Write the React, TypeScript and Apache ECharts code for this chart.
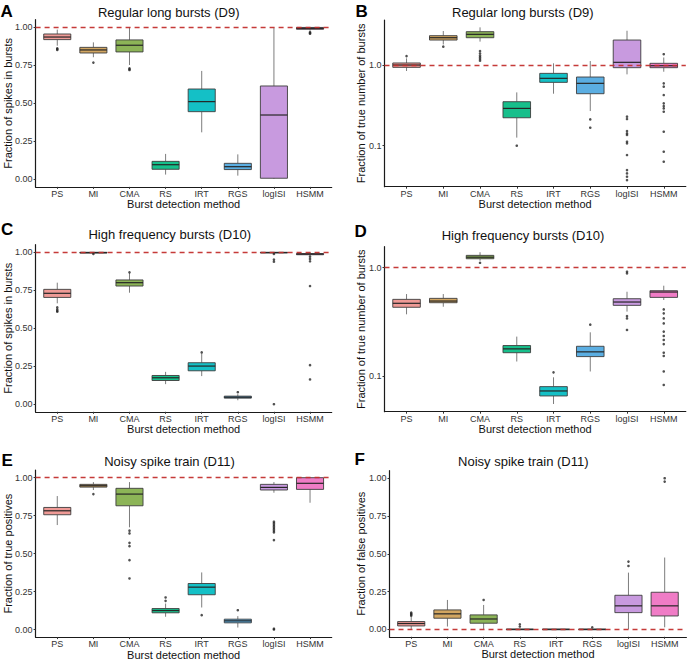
import React, { useEffect, useRef } from "react";
import * as echarts from "echarts";

const methods = ["PS", "MI", "CMA", "RS", "IRT", "RGS", "logISI", "HSMM"];
const fills = ["#EF9A96", "#D2A661", "#8CB457", "#17BF8B", "#14C0C6", "#5BAEE2", "#C89ADF", "#F07CC6"];

const letters = ["A", "B", "C", "D", "E", "F"];
const titles = [
  "Regular long bursts (D9)",
  "Regular long bursts (D9)",
  "High frequency bursts (D10)",
  "High frequency bursts (D10)",
  "Noisy spike train (D11)",
  "Noisy spike train (D11)",
];
const yTitles = [
  "Fraction of spikes in bursts",
  "Fraction of true number of bursts",
  "Fraction of spikes in bursts",
  "Fraction of true number of bursts",
  "Fraction of true positives",
  "Fraction of false positives",
];
const xTitle = "Burst detection method";
const linearTicks = [0, 0.25, 0.5, 0.75, 1];
const logTicks = [0.1, 1.0];
const refValues = [1, 1, 1, 1, 1, 0];

// box stats per method: [lower whisker, Q1, median, Q3, upper whisker]
const boxesA = [
  [0.879, 0.919, 0.936, 0.956, 0.985],
  [0.803, 0.831, 0.851, 0.868, 0.901],
  [0.752, 0.838, 0.882, 0.917, 1.0],
  [0.031, 0.066, 0.096, 0.118, 0.167],
  [0.309, 0.445, 0.511, 0.594, 0.713],
  [0.024, 0.064, 0.083, 0.105, 0.164],
  [0.002, 0.007, 0.423, 0.614, 0.998],
  [0.978, 0.987, 0.993, 0.999, 1.0],
];
const outliersA = [
  [0, 0.862], [0, 0.857], [0, 0.851],
  [1, 0.768],
  [2, 0.730], [2, 0.724], [2, 0.719],
  [7, 0.968], [7, 0.962], [7, 0.958],
];

const boxesB = [
  [0.843, 0.936, 1.0, 1.06, 1.21],
  [1.80, 2.04, 2.18, 2.31, 2.64],
  [1.95, 2.18, 2.40, 2.59, 2.93],
  [0.126, 0.222, 0.290, 0.351, 0.458],
  [0.441, 0.610, 0.684, 0.788, 1.05],
  [0.269, 0.441, 0.593, 0.71, 1.12],
  [0.766, 0.927, 1.08, 2.04, 2.66],
  [0.826, 0.927, 0.98, 1.05, 1.24],
];
const outliersB = [
  [0, 1.29],
  [1, 1.69],
  [2, 1.49], [2, 1.39], [2, 1.31], [2, 1.25], [2, 1.19], [2, 1.13],
  [3, 0.1],
  [5, 0.212], [5, 0.167],
  [6, 0.229], [6, 0.214], [6, 0.152], [6, 0.142], [6, 0.136], [6, 0.112], [6, 0.107],
  [6, 0.0766], [6, 0.0499], [6, 0.0454], [6, 0.0413], [6, 0.0375],
  [7, 1.36], [7, 0.593], [7, 0.539], [7, 0.425], [7, 0.335], [7, 0.310], [7, 0.290],
  [7, 0.264], [7, 0.149], [7, 0.0843], [7, 0.0633],
];

const boxesC = [
  [0.664, 0.703, 0.730, 0.756, 0.800],
  [0.993, 0.995, 0.998, 1.0, 1.0],
  [0.734, 0.778, 0.800, 0.818, 0.862],
  [0.132, 0.156, 0.174, 0.189, 0.213],
  [0.185, 0.220, 0.251, 0.273, 0.334],
  [0.026, 0.040, 0.046, 0.053, 0.066],
  [0.992, 0.996, 0.998, 1.0, 1.0],
  [0.975, 0.984, 0.988, 0.992, 1.0],
];
const outliersC = [
  [0, 0.637], [0, 0.624], [0, 0.615], [0, 0.609],
  [1, 0.989],
  [2, 0.868],
  [4, 0.341],
  [5, 0.079],
  [6, 0.989], [6, 0.952], [6, 0.938], [6, 0.0],
  [7, 0.971], [7, 0.956], [7, 0.941], [7, 0.778], [7, 0.257], [7, 0.163],
];

const boxesD = [
  [0.371, 0.431, 0.469, 0.510, 0.571],
  [0.436, 0.475, 0.492, 0.521, 0.571],
  [1.16, 1.21, 1.25, 1.30, 1.39],
  [0.136, 0.164, 0.178, 0.191, 0.231],
  [0.0551, 0.0654, 0.0727, 0.0797, 0.0972],
  [0.110, 0.151, 0.167, 0.188, 0.253],
  [0.393, 0.449, 0.482, 0.517, 0.600],
  [0.503, 0.532, 0.596, 0.613, 0.682],
];
const outliersD = [
  [2, 1.11],
  [4, 0.108],
  [5, 0.298],
  [6, 0.918], [6, 0.887], [6, 0.358], [6, 0.340], [6, 0.266],
  [7, 0.412], [7, 0.379], [7, 0.340], [7, 0.306], [7, 0.257], [7, 0.234], [7, 0.215],
  [7, 0.197], [7, 0.164], [7, 0.153], [7, 0.110], [7, 0.0826],
];

const boxesE = [
  [0.688, 0.756, 0.782, 0.804, 0.879],
  [0.919, 0.938, 0.947, 0.956, 0.971],
  [0.673, 0.815, 0.892, 0.930, 0.971],
  [0.084, 0.110, 0.125, 0.138, 0.171],
  [0.145, 0.229, 0.279, 0.303, 0.376],
  [0.013, 0.044, 0.057, 0.068, 0.088],
  [0.901, 0.919, 0.936, 0.956, 0.971],
  [0.835, 0.923, 0.963, 1.0, 1.0],
];
const outliersE = [
  [1, 0.892],
  [2, 0.651], [2, 0.633], [2, 0.571], [2, 0.549], [2, 0.457], [2, 0.336],
  [3, 0.211], [3, 0.189],
  [4, 0.0945],
  [5, 0.127],
  [6, 0.710], [6, 0.700], [6, 0.690], [6, 0.680], [6, 0.670], [6, 0.660], [6, 0.650],
  [6, 0.640], [6, 0.589], [6, 0.005], [6, 0.0],
];

const boxesF = [
  [0.0, 0.022, 0.038, 0.051, 0.084],
  [0.018, 0.073, 0.102, 0.128, 0.194],
  [0.0, 0.040, 0.068, 0.095, 0.161],
  [0, 0, 0, 0, 0],
  [0, 0, 0, 0, 0],
  [0, 0, 0, 0, 0],
  [0.0, 0.110, 0.155, 0.225, 0.375],
  [0.013, 0.088, 0.155, 0.245, 0.475],
];
const outliersF = [
  [0, 0.110], [0, 0.103], [0, 0.097], [0, 0.090],
  [2, 0.194],
  [3, 0.033], [3, 0.018],
  [5, 0.013],
  [6, 0.448], [6, 0.419],
  [7, 1.0], [7, 0.978],
];

const FONT = "'Liberation Sans', Arial, sans-serif";

export default function App() {
  const ref = useRef<HTMLDivElement>(null);

  useEffect(() => {
    if (!ref.current) return;
    const chart = echarts.init(ref.current, null, { renderer: "svg" });

    const allBoxes = [boxesA, boxesB, boxesC, boxesD, boxesE, boxesF];
    const allOut = [outliersA, outliersB, outliersC, outliersD, outliersE, outliersF];
    const isLog = [false, true, false, true, false, false];
    // grid layout [left, top, width, height]
    const grids = [
      [35.6, 19.7, 296.1, 167.2],
      [384.5, 20, 301.3, 166.7],
      [35.6, 244.7, 296.1, 167.1],
      [384.5, 246.7, 301.3, 165],
      [35.6, 470.1, 296.1, 167],
      [389.5, 470.7, 296.9, 166.1],
    ];
    const yRanges = [
      [-0.05, 1.05],
      [-1.508, 0.558],
      [-0.05, 1.05],
      [-1.33, 0.194],
      [-0.05, 1.05],
      [-0.05, 1.05],
    ];
    const titlePos = [
      [168.7, 12], [522.8, 12.5], [169.7, 234.5], [523, 235], [169.5, 461.5], [523.3, 461.5],
    ];
    const letterPos = [
      [0.5, 11], [355.5, 11], [1, 229.5], [354.5, 231], [1.5, 460.5], [354.5, 459.5],
    ];
    const yTitleX = [8, 360.5, 8, 360.5, 8, 360.5];

    const tf = (k: number, v: number) => (isLog[k] ? Math.log10(v) : v);

    const grid: any[] = [];
    const xAxis: any[] = [];
    const yAxis: any[] = [];
    const series: any[] = [];
    const graphic: any[] = [];

    for (let k = 0; k < 6; k++) {
      const [l, t, w, h] = grids[k];
      grid.push({ left: l, top: t, width: w, height: h, containLabel: false });
      xAxis.push({
        type: "value",
        gridIndex: k,
        min: -0.6,
        max: 7.6,
        splitLine: { show: false },
        axisLine: { show: true, onZero: false, lineStyle: { color: "#1a1a1a", width: 1.2 } },
        axisTick: { show: true, length: 2, customValues: [0, 1, 2, 3, 4, 5, 6, 7], lineStyle: { color: "#333", width: 1 } },
        axisLabel: {
          show: true,
          customValues: [0, 1, 2, 3, 4, 5, 6, 7],
          formatter: (v: number) => methods[Math.round(v)] ?? "",
          color: "#333",
          fontSize: 9,
          fontFamily: FONT,
          margin: 2.5,
        },
      });
      const ticks = isLog[k] ? logTicks.map((v) => Math.log10(v)) : linearTicks;
      yAxis.push({
        type: "value",
        gridIndex: k,
        min: yRanges[k][0],
        max: yRanges[k][1],
        splitLine: { show: false },
        axisLine: { show: true, onZero: false, lineStyle: { color: "#1a1a1a", width: 1.2 } },
        axisTick: { show: true, length: 2, customValues: ticks, lineStyle: { color: "#333", width: 1 } },
        axisLabel: {
          show: true,
          customValues: ticks,
          formatter: (v: number) =>
            isLog[k] ? Math.pow(10, v).toFixed(1) : v.toFixed(2),
          color: "#333",
          fontSize: 9,
          fontFamily: FONT,
          margin: 3,
        },
      });

      const boxData = allBoxes[k].map((b, i) => [i, ...b.map((v) => tf(k, v))]);
      series.push({
        type: "custom",
        xAxisIndex: k,
        yAxisIndex: k,
        z: 2,
        data: boxData,
        encode: { x: 0, y: [1, 2, 3, 4, 5] },
        renderItem: (params: any, api: any) => {
          const i = api.value(0);
          const lo = api.coord([i, api.value(1)]);
          const q1 = api.coord([i, api.value(2)]);
          const md = api.coord([i, api.value(3)]);
          const q3 = api.coord([i, api.value(4)]);
          const hi = api.coord([i, api.value(5)]);
          const bw = api.size([1, 0])[0] * 0.75;
          const x = md[0];
          const wStyle = { stroke: "#7d7d7d", lineWidth: 1 };
          return {
            type: "group",
            children: [
              { type: "line", shape: { x1: x, y1: hi[1], x2: x, y2: q3[1] }, style: wStyle },
              { type: "line", shape: { x1: x, y1: q1[1], x2: x, y2: lo[1] }, style: wStyle },
              {
                type: "rect",
                shape: { x: x - bw / 2, y: q3[1], width: bw, height: Math.max(q1[1] - q3[1], 0.5) },
                style: { fill: fills[i], stroke: "#3d3d3d", lineWidth: 0.9 },
              },
              {
                type: "line",
                shape: { x1: x - bw / 2, y1: md[1], x2: x + bw / 2, y2: md[1] },
                style: { stroke: "#262626", lineWidth: 1.2 },
              },
            ],
          };
        },
      });

      series.push({
        type: "scatter",
        xAxisIndex: k,
        yAxisIndex: k,
        z: 5,
        symbol: "circle",
        symbolSize: 2.6,
        itemStyle: { color: "#262626" },
        data: allOut[k].map(([i, v]) => [i, tf(k, v)]),
        markLine: {
          silent: true,
          symbol: ["none", "none"],
          label: { show: false },
          lineStyle: { color: "#C3302E", type: [5, 4], width: 1.4, opacity: 0.95 },
          data: [{ yAxis: tf(k, refValues[k]) }],
        },
      });

      graphic.push({
        type: "text",
        x: titlePos[k][0],
        y: titlePos[k][1],
        style: {
          text: titles[k],
          fill: "#111",
          font: `13px ${FONT}`,
          textAlign: "center",
          textVerticalAlign: "middle",
        },
      });
      graphic.push({
        type: "text",
        x: letterPos[k][0],
        y: letterPos[k][1],
        style: {
          text: letters[k],
          fill: "#000",
          font: `bold 17px ${FONT}`,
          textAlign: "left",
          textVerticalAlign: "middle",
        },
      });
      graphic.push({
        type: "text",
        x: yTitleX[k],
        y: t + h / 2,
        rotation: Math.PI / 2,
        style: {
          text: yTitles[k],
          fill: "#111",
          font: `11px ${FONT}`,
          textAlign: "center",
          textVerticalAlign: "middle",
        },
      });
      graphic.push({
        type: "text",
        x: l + w / 2,
        y: t + h + 17.5,
        style: {
          text: xTitle,
          fill: "#111",
          font: `11px ${FONT}`,
          textAlign: "center",
          textVerticalAlign: "middle",
        },
      });
    }

    chart.setOption({
      animation: false,
      backgroundColor: "#fff",
      textStyle: { fontFamily: FONT },
      grid,
      xAxis,
      yAxis,
      series,
      graphic,
    });

    return () => chart.dispose();
  }, []);

  return (
    <div
      ref={ref}
      style={{ position: "fixed", left: 0, top: 0, width: 687, height: 660, background: "#fff" }}
    />
  );
}
